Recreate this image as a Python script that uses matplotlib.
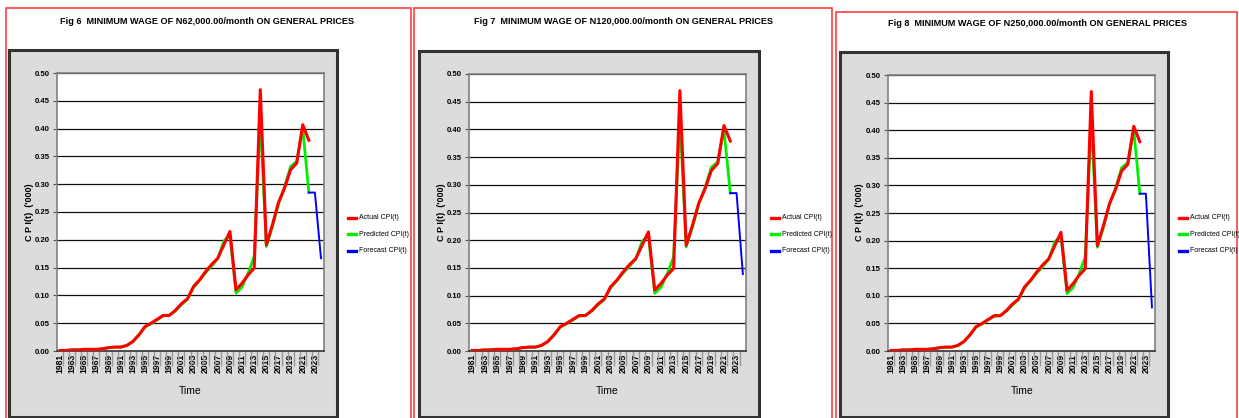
import numpy as np
import matplotlib.pyplot as plt
from matplotlib.patches import Rectangle
from matplotlib.lines import Line2D

# years on the category axis
years = list(range(1981, 2025))

# Actual CPI(t), 1981-2022
actual = [0.001, 0.001, 0.002, 0.002, 0.003, 0.003, 0.003, 0.004, 0.006, 0.007,
          0.007, 0.010, 0.017, 0.029, 0.044, 0.050, 0.057, 0.064, 0.064, 0.073,
          0.085, 0.094, 0.116, 0.128, 0.143, 0.156, 0.167, 0.191, 0.215, 0.110,
          0.122, 0.137, 0.149, 0.470, 0.191, 0.227, 0.267, 0.293, 0.326, 0.338,
          0.407, 0.379]

# Predicted CPI(t), 1981-2022
predicted = [0.001, 0.001, 0.002, 0.002, 0.003, 0.003, 0.003, 0.004, 0.006, 0.007,
             0.007, 0.010, 0.017, 0.029, 0.043, 0.049, 0.056, 0.063, 0.064, 0.072,
             0.083, 0.093, 0.114, 0.127, 0.141, 0.153, 0.166, 0.198, 0.208, 0.104,
             0.115, 0.140, 0.170, 0.420, 0.188, 0.224, 0.265, 0.295, 0.332, 0.341,
             0.400, 0.285]

# Forecast CPI(t), 2022-2024, last value differs per wage scenario
forecast_start = [0.285, 0.285]
forecast_end = [0.167, 0.139, 0.079]

titles = ["Fig 6  MINIMUM WAGE OF N62,000.00/month ON GENERAL PRICES",
          "Fig 7  MINIMUM WAGE OF N120,000.00/month ON GENERAL PRICES",
          "Fig 8  MINIMUM WAGE OF N250,000.00/month ON GENERAL PRICES"]

legend_labels = ["Actual CPI(t)", "Predicted CPI(t)", "Forecast CPI(t)"]

W, H = 1239, 418
fig = plt.figure(figsize=(W / 100, H / 100), dpi=100)
fig.patch.set_facecolor('white')

narrow = ['Liberation Sans Narrow', 'Liberation Sans', 'DejaVu Sans']


def fx(x):
    return x / W


def fy(y):
    return 1 - y / H


def frect(x0, y0, x1, y1):
    # pixel box (top-left origin) -> figure fraction [l, b, w, h]
    return [fx(x0), fy(y1), fx(x1) - fx(x0), fy(y0) - fy(y1)]


# layout in pixels for each panel
panels = [
    dict(border=(6, 8, 411, 440), box=(9, 50, 337, 417), plot=(57, 73, 324, 351),
         leg=348, title=(207, 21), ylab=29, time=190),
    dict(border=(414, 8, 832, 440), box=(419, 51, 759, 417), plot=(469, 74, 746, 351),
         leg=771, title=(624, 22), ylab=441, time=607),
    dict(border=(836, 12, 1237, 440), box=(840, 52, 1168, 417), plot=(888, 75, 1155, 351),
         leg=1179, title=(1037, 23), ylab=860, time=1022),
]

for k, p in enumerate(panels):
    # red frame around the figure panel
    b = frect(*p['border'])
    fig.patches.append(Rectangle((b[0], b[1]), b[2], b[3], transform=fig.transFigure,
                                 fill=False, edgecolor='#ff4040', lw=1.2, zorder=-5))
    # gray chart area
    g = frect(*p['box'])
    fig.patches.append(Rectangle((g[0], g[1]), g[2], g[3], transform=fig.transFigure,
                                 facecolor='#dcdcdc', edgecolor='#333333', lw=2.2,
                                 zorder=-4))

    fig.text(fx(p['title'][0]), fy(p['title'][1]), titles[k], ha='center', va='center',
             fontsize=6.6, fontweight='bold', family=narrow)

    ax = fig.add_axes(frect(*p['plot']))
    ax.set_zorder(2)
    ax.set_facecolor('white')
    x = np.arange(len(years))
    ax.plot(x[:len(predicted)], predicted, color='#00ee00', lw=2.0, zorder=3)
    ax.plot(x[:len(actual)], actual, color='#ff0000', lw=2.2, zorder=4)
    fc = forecast_start + [forecast_end[k]]
    ax.plot(x[len(predicted) - 1:], fc, color='#0000ff', lw=1.4, zorder=3)

    ax.set_xlim(-0.5, len(years) - 0.5)
    ax.set_ylim(0, 0.5)
    ax.set_yticks(np.arange(0, 0.501, 0.05))
    ax.set_yticklabels([f"{v:.2f}" for v in np.arange(0, 0.501, 0.05)],
                       fontsize=5.6, fontweight='bold', family=narrow)
    ax.tick_params(axis='y', length=3, width=0.8, color='#555555', pad=2)
    ax.grid(axis='y', color='#111111', lw=0.9, zorder=1)
    ax.set_axisbelow(True)

    ax.set_xticks(x[::2])
    ax.set_xticklabels([str(y) for y in years[::2]], rotation=90, fontsize=6.2,
                       fontweight='bold', family=narrow)
    ax.set_xticks(x[:-1] + 0.5, minor=True)
    ax.tick_params(axis='x', which='major', length=0, pad=2)
    ax.tick_params(axis='x', which='minor', length=11, width=1.0, color='#999999')

    for s in ax.spines.values():
        s.set_color('#808080')
        s.set_linewidth(1.2)
    ax.spines['bottom'].set_color('#333333')

    fig.text(fx(p['ylab']), fy(212), "C P I(t)  ('000)", rotation=90, ha='center',
             va='center', fontsize=6.5, fontweight='bold', family=narrow)
    fig.text(fx(p['time']), fy(391), "Time", ha='center', va='center', fontsize=7.5,
             family=narrow)

    # legend drawn by hand to the right of the gray box
    for j, (lab, col) in enumerate(zip(legend_labels, ['#ff0000', '#00ee00', '#0000ff'])):
        yy = fy(218 + j * 16.5)
        fig.lines.append(Line2D([fx(p['leg']), fx(p['leg'] + 8)], [yy, yy],
                                transform=fig.transFigure, color=col, lw=2.4))
        fig.text(fx(p['leg'] + 11), yy, lab, ha='left', va='center', fontsize=5.0,
                 family=narrow)

fig.savefig('out.png', dpi=100)
